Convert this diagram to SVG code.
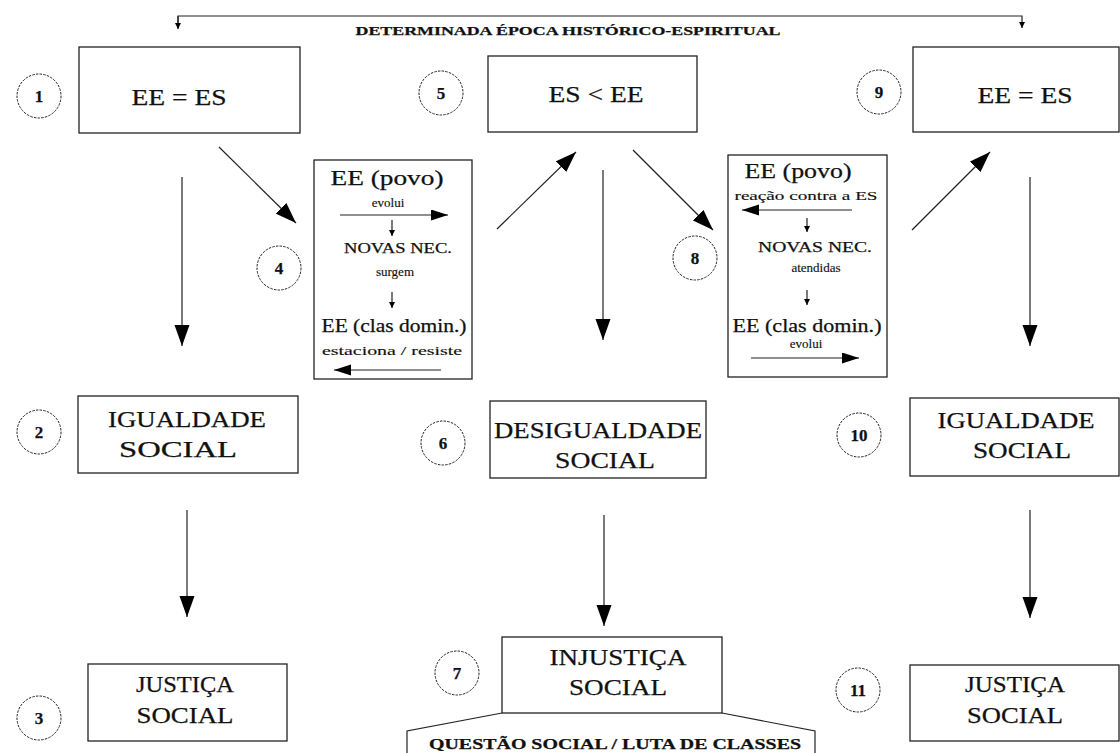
<svg xmlns="http://www.w3.org/2000/svg" width="1120" height="753" viewBox="0 0 1120 753">
<style>
.box{fill:#fff;stroke:#222;stroke-width:1.3}
.num{fill:#fff;stroke:#222;stroke-width:1;stroke-dasharray:2.5,1.2}
text{font-family:"Liberation Serif","Times New Roman",serif;fill:#111;stroke:#111;stroke-width:0.25;text-anchor:middle}
.big{font-size:24px}
.n{font-size:17px;font-weight:bold}
.s{font-size:13px;stroke-width:0.15}
.m{font-size:15px}
.b{font-weight:bold}
.ln{stroke:#222;stroke-width:1.2;fill:none}
</style>
<defs>
<marker id="ah" markerUnits="userSpaceOnUse" markerWidth="24" markerHeight="16" refX="21" refY="8" orient="auto"><path d="M0,0.5 L21,8 L0,15.5 z" fill="#000"/></marker>
<marker id="ahs" markerUnits="userSpaceOnUse" markerWidth="18" markerHeight="12" refX="17" refY="5.5" orient="auto"><path d="M0,0 L17,5.5 L0,11 z" fill="#000"/></marker>
<marker id="aht" markerUnits="userSpaceOnUse" markerWidth="8" markerHeight="8" refX="6" refY="3" orient="auto"><path d="M0,0 L6,3 L0,6 z" fill="#000"/></marker>
</defs>

<g id="connectors">
<polyline class="ln" points="178,28 178,16 1022,16 1022,28" marker-end="url(#aht)"/>
<line class="ln" x1="178" y1="16" x2="178" y2="29" marker-end="url(#aht)"/>
<line class="ln" x1="182" y1="177" x2="182" y2="346" marker-end="url(#ah)"/>
<line class="ln" x1="603" y1="170" x2="603" y2="340" marker-end="url(#ah)"/>
<line class="ln" x1="1030" y1="177" x2="1030" y2="346" marker-end="url(#ah)"/>
<line class="ln" x1="187" y1="510" x2="187" y2="617" marker-end="url(#ah)"/>
<line class="ln" x1="604" y1="515" x2="604" y2="626" marker-end="url(#ah)"/>
<line class="ln" x1="1030" y1="510" x2="1030" y2="618" marker-end="url(#ah)"/>
<line class="ln" x1="219" y1="147" x2="296" y2="223" marker-end="url(#ah)"/>
<line class="ln" x1="497" y1="229" x2="576" y2="152" marker-end="url(#ah)"/>
<line class="ln" x1="633" y1="150" x2="713" y2="230" marker-end="url(#ah)"/>
<line class="ln" x1="912" y1="230" x2="990" y2="152" marker-end="url(#ah)"/>
<polyline class="ln" points="502,713 407,731 407,753"/>
<polyline class="ln" points="722,713 815,731 815,753"/>
</g>

<text class="b" x="568" y="35" font-size="13" textLength="425" lengthAdjust="spacingAndGlyphs">DETERMINADA ÉPOCA HISTÓRICO-ESPIRITUAL</text>

<g id="n1"><circle class="num" cx="39" cy="96" r="22"/><text class="n" x="39" y="102">1</text></g>
<g id="b1"><rect class="box" x="79" y="47" width="221" height="86"/><text class="big" x="179" y="105" textLength="95" lengthAdjust="spacingAndGlyphs">EE = ES</text></g>

<g id="n5"><circle class="num" cx="441" cy="93" r="22"/><text class="n" x="441" y="99">5</text></g>
<g id="b5"><rect class="box" x="488" y="56" width="209" height="76"/><text class="big" x="596" y="102" textLength="95" lengthAdjust="spacingAndGlyphs">ES &lt; EE</text></g>

<g id="n9"><circle class="num" cx="879" cy="92" r="22"/><text class="n" x="879" y="98">9</text></g>
<g id="b9"><rect class="box" x="913" y="47" width="206" height="85"/><text class="big" x="1025" y="103" textLength="95" lengthAdjust="spacingAndGlyphs">EE = ES</text></g>

<g id="n4"><circle class="num" cx="279" cy="268" r="22"/><text class="n" x="279" y="274">4</text></g>
<g id="b4">
<rect class="box" x="314" y="160" width="158" height="219"/>
<text x="387" y="185" font-size="22" textLength="113" lengthAdjust="spacingAndGlyphs">EE (povo)</text>
<text class="s" x="388" y="207">evolui</text>
<line class="ln" x1="340" y1="215" x2="448" y2="215" marker-end="url(#ahs)"/>
<line class="ln" x1="392" y1="220" x2="392" y2="236" marker-end="url(#aht)"/>
<text class="m" x="398" y="253" textLength="108" lengthAdjust="spacingAndGlyphs">NOVAS NEC.</text>
<text class="s" x="395" y="276">surgem</text>
<line class="ln" x1="392" y1="292" x2="392" y2="308" marker-end="url(#aht)"/>
<text x="394" y="332" font-size="18" textLength="145" lengthAdjust="spacingAndGlyphs">EE (clas domin.)</text>
<text class="s" x="392" y="355" textLength="140" lengthAdjust="spacingAndGlyphs">estaciona / resiste</text>
<line class="ln" x1="441" y1="370" x2="334" y2="370" marker-end="url(#ahs)"/>
</g>

<g id="n8"><circle class="num" cx="695" cy="258" r="22"/><text class="n" x="695" y="264">8</text></g>
<g id="b8">
<rect class="box" x="728" y="155" width="159" height="222"/>
<text x="798" y="178" font-size="22" textLength="107" lengthAdjust="spacingAndGlyphs">EE (povo)</text>
<text class="s" x="806" y="200" textLength="143" lengthAdjust="spacingAndGlyphs">reação contra a ES</text>
<line class="ln" x1="852" y1="210" x2="742" y2="210" marker-end="url(#ahs)"/>
<line class="ln" x1="807" y1="218" x2="807" y2="232" marker-end="url(#aht)"/>
<text class="m" x="815" y="252" textLength="114" lengthAdjust="spacingAndGlyphs">NOVAS NEC.</text>
<text class="s" x="816" y="272">atendidas</text>
<line class="ln" x1="807" y1="290" x2="807" y2="305" marker-end="url(#aht)"/>
<text x="807" y="332" font-size="18" textLength="149" lengthAdjust="spacingAndGlyphs">EE (clas domin.)</text>
<text class="s" x="806" y="348">evolui</text>
<line class="ln" x1="751" y1="358" x2="859" y2="358" marker-end="url(#ahs)"/>
</g>

<g id="n2"><circle class="num" cx="39" cy="432" r="22"/><text class="n" x="39" y="438">2</text></g>
<g id="b2"><rect class="box" x="78" y="396" width="220" height="77"/>
<text class="big" x="187" y="427" textLength="158" lengthAdjust="spacingAndGlyphs">IGUALDADE</text>
<text class="big" x="178" y="457" textLength="118" lengthAdjust="spacingAndGlyphs">SOCIAL</text></g>

<g id="n6"><circle class="num" cx="443" cy="443" r="22"/><text class="n" x="443" y="449">6</text></g>
<g id="b6"><rect class="box" x="490" y="401" width="216" height="77"/>
<text class="big" x="598" y="438" textLength="208" lengthAdjust="spacingAndGlyphs">DESIGUALDADE</text>
<text class="big" x="605" y="468" textLength="100" lengthAdjust="spacingAndGlyphs">SOCIAL</text></g>

<g id="n10"><circle class="num" cx="859" cy="435" r="22"/><text class="n" x="859" y="441">10</text></g>
<g id="b10"><rect class="box" x="910" y="398" width="209" height="78"/>
<text class="big" x="1016" y="428" textLength="157" lengthAdjust="spacingAndGlyphs">IGUALDADE</text>
<text class="big" x="1022" y="458" textLength="98" lengthAdjust="spacingAndGlyphs">SOCIAL</text></g>

<g id="n3"><circle class="num" cx="39" cy="718" r="22"/><text class="n" x="39" y="724">3</text></g>
<g id="b3"><rect class="box" x="88" y="664" width="199" height="77"/>
<text class="big" x="185" y="692" textLength="98" lengthAdjust="spacingAndGlyphs">JUSTIÇA</text>
<text class="big" x="185" y="723" textLength="97" lengthAdjust="spacingAndGlyphs">SOCIAL</text></g>

<g id="n7"><circle class="num" cx="457" cy="673" r="22"/><text class="n" x="457" y="679">7</text></g>
<g id="b7"><rect class="box" x="502" y="637" width="220" height="76"/>
<text class="big" x="618" y="665" textLength="137" lengthAdjust="spacingAndGlyphs">INJUSTIÇA</text>
<text class="big" x="618" y="695" textLength="98" lengthAdjust="spacingAndGlyphs">SOCIAL</text></g>
<text class="b" x="615" y="749" font-size="15" textLength="372" lengthAdjust="spacingAndGlyphs">QUESTÃO SOCIAL / LUTA DE CLASSES</text>

<g id="n11"><circle class="num" cx="858" cy="690" r="22"/><text class="n" x="858" y="696">11</text></g>
<g id="b11"><rect class="box" x="910" y="665" width="209" height="76"/>
<text class="big" x="1015" y="692" textLength="100" lengthAdjust="spacingAndGlyphs">JUSTIÇA</text>
<text class="big" x="1015" y="723" textLength="96" lengthAdjust="spacingAndGlyphs">SOCIAL</text></g>
</svg>
